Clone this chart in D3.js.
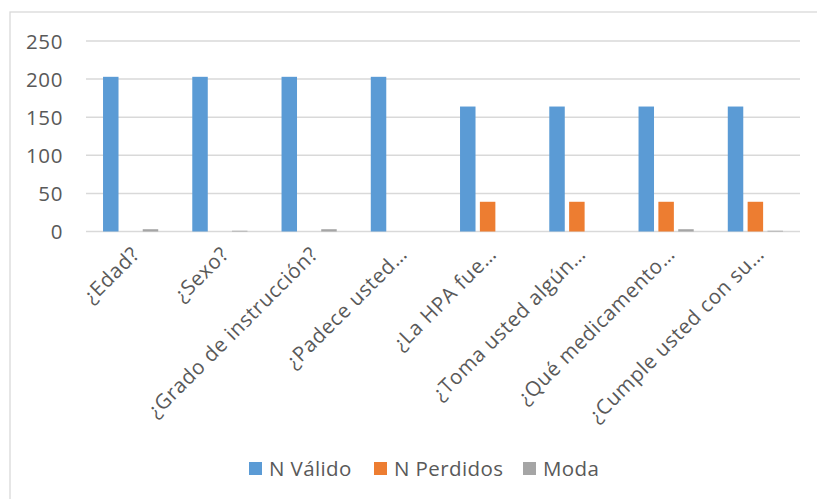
<!DOCTYPE html>
<html>
<head>
<meta charset="utf-8">
<script src="https://cdn.jsdelivr.net/npm/d3@7"></script>
<style>
  html, body { margin: 0; padding: 0; background: #fff; }
  svg { display: block; }
</style>
</head>
<body>
<svg id="chart" width="817" height="499"></svg>
<script>
const categories = ["¿Edad?", "¿Sexo?", "¿Grado de instrucción?", "¿Padece usted…", "¿La HPA fue…", "¿Toma usted algún…", "¿Qué medicamento…", "¿Cumple usted con su…"];
const seriesNames = ["N Válido", "N Perdidos", "Moda"];
const nValido = [203, 203, 203, 203, 164, 164, 164, 164];
const nPerdidos = [0, 0, 0, 0, 39, 39, 39, 39];
const moda = [3, 1, 3, 0, 0, 0, 3, 1];
const yTicks = [0, 50, 100, 150, 200, 250];
const colors = ["#5B9BD5", "#ED7D31", "#A5A5A5"];

const seriesValues = [nValido, nPerdidos, moda];
const data = categories.map((c, i) => ({ cat: c, vals: seriesNames.map((s, k) => ({ key: s, value: seriesValues[k][i] })) }));

const svg = d3.select("#chart");
const font = "'Open Sans', 'Noto Sans', sans-serif";
const textColor = "#595959";

// chart frame
svg.append("rect").attr("x", 10).attr("y", 12).attr("width", 830).attr("height", 520)
  .attr("fill", "#fff").attr("stroke", "#D9D9D9").attr("stroke-width", 1.3);

const plot = { left: 86, right: 800, top: 41, bottom: 231.5 };

const x0 = d3.scaleBand().domain(categories).range([plot.left, plot.right]).paddingInner(0).paddingOuter(0);
const x1 = d3.scaleBand().domain(seriesNames).range([0, x0.bandwidth()]).paddingInner(0.22).paddingOuter(0.858);
const y = d3.scaleLinear().domain([0, 250]).range([plot.bottom, plot.top]);

// gridlines
svg.append("g").selectAll("line").data(yTicks).join("line")
  .attr("x1", plot.left).attr("x2", plot.right)
  .attr("y1", d => y(d)).attr("y2", d => y(d))
  .attr("stroke", "#D9D9D9").attr("stroke-width", 1.5);

// y axis labels
const yAxis = d3.axisLeft(y).tickValues(yTicks).tickSize(0).tickPadding(0);
const yg = svg.append("g").attr("transform", `translate(${plot.left - 23},0)`).call(yAxis);
yg.select(".domain").remove();
yg.selectAll("text").attr("font-family", font).attr("font-size", 20.5).attr("letter-spacing", 0.6).attr("fill", textColor).attr("dy", "0.35em");

// bars
const groups = svg.append("g").selectAll("g").data(data).join("g")
  .attr("transform", d => `translate(${x0(d.cat)},0)`);
groups.selectAll("rect").data(d => d.vals).join("rect")
  .attr("x", d => x1(d.key))
  .attr("width", x1.bandwidth())
  .attr("y", d => y(d.value))
  .attr("height", d => y(0) - y(d.value))
  .attr("fill", (d, i) => colors[i]);

// x labels
const xAxis = d3.axisBottom(x0).tickSize(0).tickPadding(0);
const xg = svg.append("g").attr("transform", `translate(5,${plot.bottom + 19})`).call(xAxis);
xg.select(".domain").remove();
xg.selectAll("text")
  .attr("font-family", font).attr("font-size", 20.5).attr("letter-spacing", 0.6).attr("fill", textColor)
  .attr("text-anchor", "end").attr("dy", "0.35em").attr("y", 0).attr("x", 0)
  .attr("transform", "rotate(-45)");

// legend
const legendItems = [
  { name: seriesNames[0], color: colors[0], x: 249 },
  { name: seriesNames[1], color: colors[1], x: 374 },
  { name: seriesNames[2], color: colors[2], x: 523 }
];
const lg = svg.append("g");
const li = lg.selectAll("g").data(legendItems).join("g").attr("transform", d => `translate(${d.x},462)`);
li.append("rect").attr("width", 13).attr("height", 13).attr("fill", d => d.color);
li.append("text").attr("x", 20).attr("y", 6.5).attr("dy", "0.36em")
  .attr("font-family", font).attr("font-size", 20.5).attr("letter-spacing", 0.4).attr("fill", textColor).text(d => d.name);
</script>
</body>
</html>
